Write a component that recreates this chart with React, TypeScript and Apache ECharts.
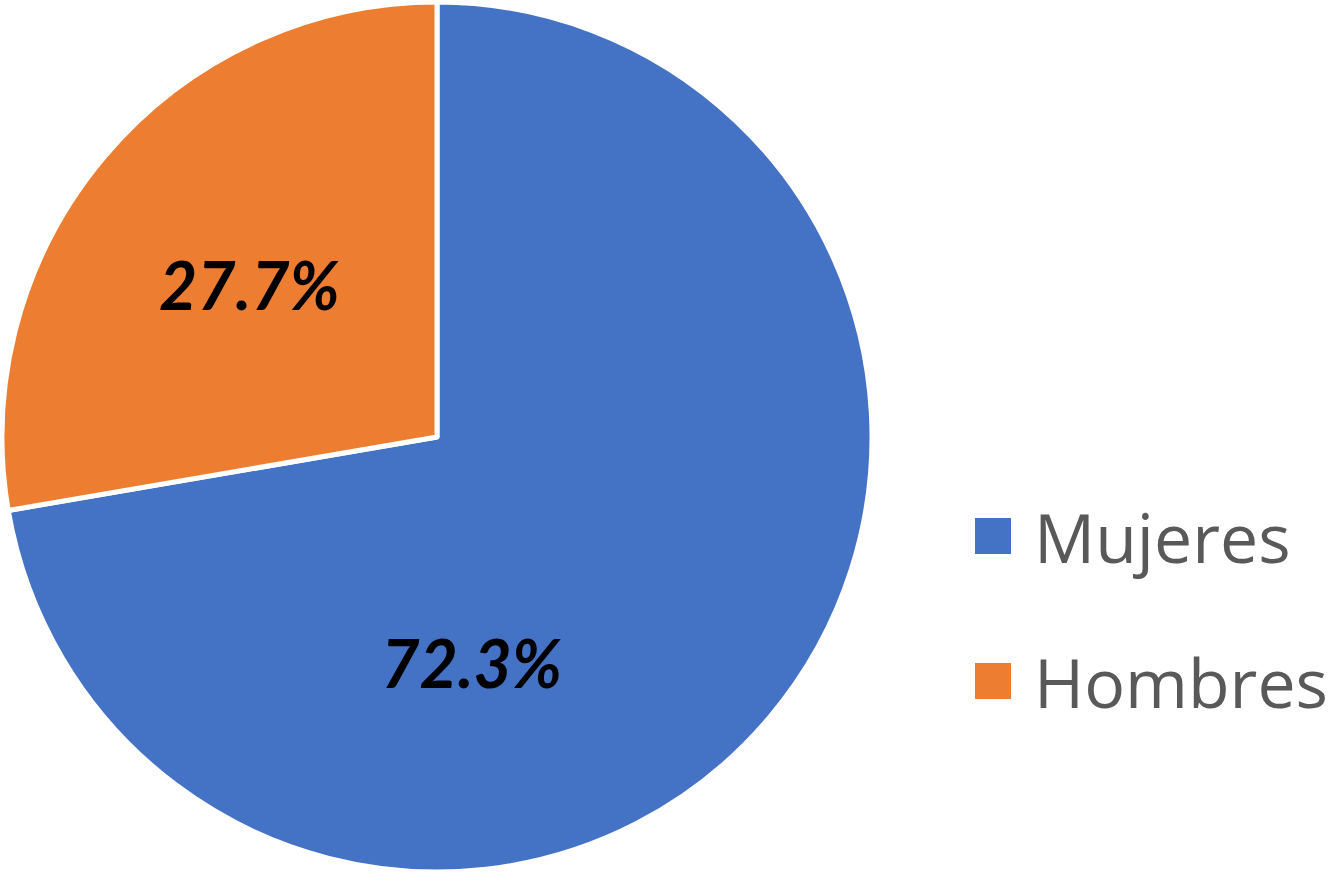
import React, { useEffect, useRef } from "react";
import * as echarts from "echarts";

const categories = ["Mujeres", "Hombres"];
const values = [72.3, 27.7];
const colors = ["#4472C4", "#ED7D31"];
const labelOffsets: [number, number][] = [[-134, 83], [-19, -10]];

export default function App() {
  const ref = useRef<HTMLDivElement>(null);
  useEffect(() => {
    const chart = echarts.init(ref.current!, undefined, { renderer: "svg" });
    chart.setOption({
      animation: false,
      backgroundColor: "#ffffff",
      legend: {
        orient: "vertical",
        left: 968,
        top: 497,
        itemWidth: 38,
        itemHeight: 38,
        itemGap: 77,
        icon: "rect",
        data: categories,
        textStyle: {
          fontFamily: "Open Sans",
          fontSize: 68,
          lineHeight: 68,
          color: "#595959",
          padding: [0, 0, 0, 17],
        },
      },
      series: [
        {
          type: "pie",
          center: [437, 437],
          radius: 435,
          startAngle: 90,
          clockwise: true,
          itemStyle: { borderColor: "#ffffff", borderWidth: 5 },
          label: {
            show: true,
            position: "inside",
            formatter: (p: any) => p.value.toFixed(1) + "%",
            fontFamily: "Lato",
            fontWeight: "bold",
            fontStyle: "italic",
            fontSize: 66,
            color: "#000000",
          },
          labelLine: { show: false },
          data: categories.map((c, i) => ({
            name: c,
            value: values[i],
            itemStyle: { color: colors[i] },
            label: { offset: labelOffsets[i] },
          })),
        },
      ],
    });
    return () => chart.dispose();
  }, []);
  return (
    <div
      ref={ref}
      style={{ position: "fixed", left: 0, top: 0, width: 1333, height: 876 }}
    />
  );
}
